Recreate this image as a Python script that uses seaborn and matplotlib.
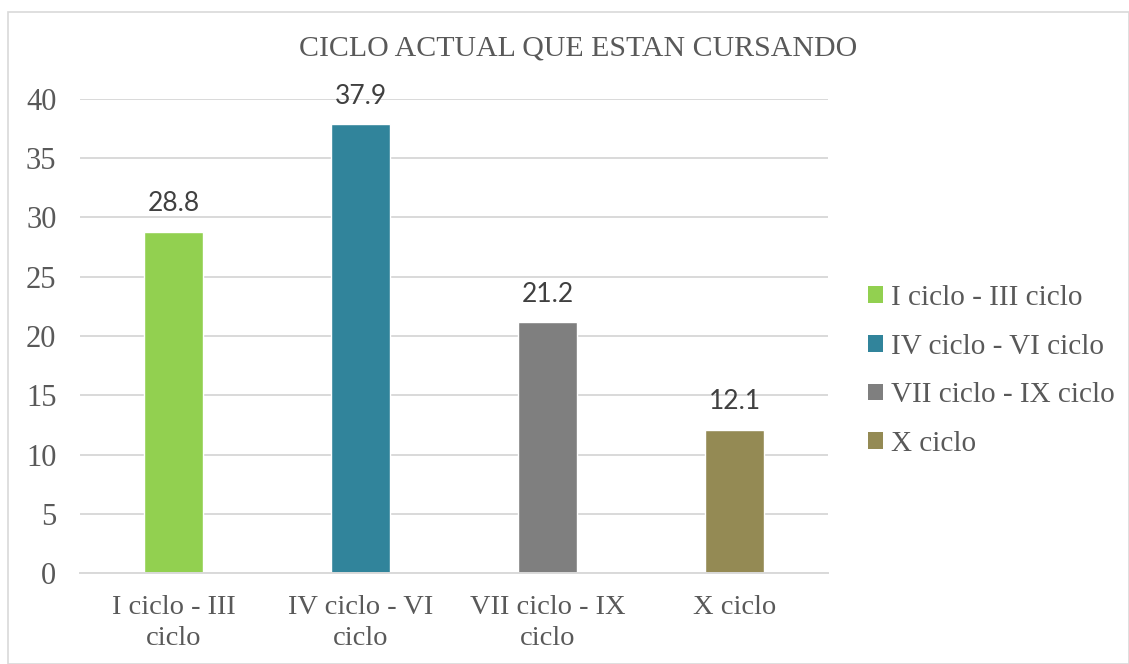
import matplotlib
matplotlib.use("Agg")
import matplotlib.pyplot as plt
import matplotlib.patches as mpatches
import seaborn as sns
import pandas as pd

# Data
categories = ["I ciclo - III ciclo", "IV ciclo - VI ciclo", "VII ciclo - IX ciclo", "X ciclo"]
tick_labels = ["I ciclo - III\nciclo", "IV ciclo - VI\nciclo", "VII ciclo - IX\nciclo", "X ciclo"]
values = [28.8, 37.9, 21.2, 12.1]
colors = ["#92D050", "#31849B", "#7F7F7F", "#948A54"]

SERIF = ["Liberation Serif", "DejaVu Serif"]
SANS = ["Lato", "DejaVu Sans"]

sns.set_theme(style="white")
plt.rcParams["font.family"] = SERIF

df = pd.DataFrame({"ciclo": categories, "pct": values})

fig = plt.figure(figsize=(11.29, 6.64), dpi=100)
W, H = 1129, 664
ax = fig.add_axes([80 / W, (H - 573) / H, (828 - 80) / W, (573 - 99) / H])

sns.barplot(data=df, x="ciclo", y="pct", hue="ciclo", palette=colors,
            width=0.32, saturation=1, legend=False, ax=ax)

ax.set_ylim(0, 40)
ax.set_yticks(range(0, 41, 5))
ax.set_yticklabels([str(t) for t in range(0, 41, 5)], fontsize=22,
                   color="#595959", family=SERIF)
ax.set_xticks(range(len(tick_labels)))
ax.set_xticklabels(tick_labels, fontsize=20.5, color="#595959",
                   linespacing=1.3, family=SERIF)
ax.tick_params(axis="y", length=0, pad=17)
ax.tick_params(axis="x", length=0, pad=16)
ax.set_xlabel("")
ax.set_ylabel("")
ax.yaxis.grid(True, color="#D9D9D9", linewidth=1.4)
ax.set_axisbelow(True)
for side in ["top", "right", "left"]:
    ax.spines[side].set_visible(False)
ax.spines["bottom"].set_color("#D9D9D9")
ax.spines["bottom"].set_linewidth(1.4)

# value labels above bars
for i, v in enumerate(values):
    ax.annotate(f"{v:.1f}", (i, v), textcoords="offset points", xytext=(0, 11),
                ha="center", va="bottom", fontsize=19, color="#404040",
                family=SANS, annotation_clip=False)

# legend on the right
handles = [mpatches.Patch(facecolor=c, edgecolor="none", label=lab)
           for c, lab in zip(colors, categories)]
fig.legend(handles=handles, loc="center left", bbox_to_anchor=(868 / W, 1 - 371 / H),
           frameon=False, prop={"family": SERIF, "size": 21}, labelcolor="#595959",
           handlelength=0.5, handleheight=0.5, handletextpad=0.3,
           labelspacing=0.78, borderaxespad=0, borderpad=0)

fig.text(578 / W, 1 - 49 / H, "CICLO ACTUAL QUE ESTAN CURSANDO",
         ha="center", va="center", fontsize=21.5, color="#595959", family=SERIF)

# chart border
fig.patches.append(mpatches.Rectangle((8 / W, 0), 1 - 8 / W, 1 - 12 / H,
                                      transform=fig.transFigure, fill=False,
                                      edgecolor="#D9D9D9", linewidth=1.2))

fig.savefig("out.png", dpi=100)
